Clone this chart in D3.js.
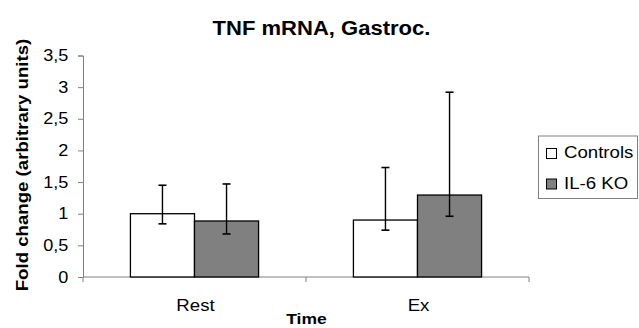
<!DOCTYPE html>
<html>
<head>
<meta charset="utf-8">
<script src="https://cdn.jsdelivr.net/npm/d3@7"></script>
<style>
  body { margin: 0; background: #fff; }
  svg { display: block; font-family: "Liberation Sans", Arial, sans-serif; }
</style>
</head>
<body>
<div id="chart"></div>
<script>
const categories = ['Rest', 'Ex']
const seriesNames = ['Controls', 'IL-6 KO']
const seriesColors = ['#ffffff', '#808080']
// mean, lower error end, upper error end for each category
const controlsMean = [1.0, 0.9]
const controlsLow = [0.84, 0.74]
const controlsHigh = [1.45, 1.73]
const koMean = [0.885, 1.295]
const koLow = [0.68, 0.96]
const koHigh = [1.47, 2.92]
const yTicks = [0, 0.5, 1, 1.5, 2, 2.5, 3, 3.5]

const width = 639, height = 328
const margin = {left: 83, right: 110, top: 55.5, bottom: 51}
const SX = 1.13 // the original font runs wider than Liberation Sans

const svg = d3.select('#chart').append('svg')
  .attr('width', width)
  .attr('height', height)

const x = d3.scaleBand()
  .domain(categories)
  .range([margin.left, width - margin.right])

const xs = d3.scaleBand()
  .domain(seriesNames)
  .range([0, x.bandwidth()])
  .paddingInner(0)
  .paddingOuter(0.74)

const y = d3.scaleLinear()
  .domain([0, 3.5])
  .range([height - margin.bottom, margin.top])

const fmt = d => String(d).replace('.', ',')

// text placed at (tx, ty), stretched a bit horizontally
const label = (parent, tx, ty, str, size, bold, anchor, rot) => parent.append('text')
  .attr('transform', `translate(${tx},${ty})` + (rot ? ` rotate(${rot})` : '') + ` scale(${SX},1)`)
  .attr('text-anchor', anchor || 'start')
  .style('font-size', size + 'px')
  .style('font-weight', bold ? 'bold' : 'normal')
  .text(str)

// y axis
const yAxis = svg.append('g')
  .attr('transform', `translate(${margin.left},0)`)
  .call(d3.axisLeft(y).tickValues(yTicks).tickSize(5).tickPadding(8).tickFormat(fmt))
yAxis.select('.domain').attr('stroke', '#808080')
yAxis.selectAll('.tick line').attr('stroke', '#808080')
yAxis.selectAll('.tick text')
  .attr('fill', '#000')
  .attr('transform', `scale(${SX},1)`)
  .style('font-size', '16px')

// x axis with ticks between categories
const xAxisG = svg.append('g')
  .attr('transform', `translate(0,${y(0)})`)
xAxisG.append('line')
  .attr('x1', margin.left).attr('x2', width - margin.right)
  .attr('stroke', '#808080')
const boundaries = categories.map(c => x(c)).concat([x(categories[categories.length - 1]) + x.bandwidth()])
xAxisG.selectAll('.xt').data(boundaries).join('line')
  .attr('x1', d => d).attr('x2', d => d)
  .attr('y1', 0).attr('y2', 5)
  .attr('stroke', '#808080')
categories.forEach(c => label(xAxisG, x(c) + x.bandwidth() / 2 + 1, 34, c, 16.5, false, 'middle'))

const series = [
  {name: seriesNames[0], mean: controlsMean, low: controlsLow, high: controlsHigh, color: seriesColors[0]},
  {name: seriesNames[1], mean: koMean, low: koLow, high: koHigh, color: seriesColors[1]}
]

series.forEach(s => {
  const g = svg.append('g')
  categories.forEach((c, i) => {
    const bx = x(c) + xs(s.name)
    g.append('rect')
      .attr('x', bx)
      .attr('y', y(s.mean[i]))
      .attr('width', xs.bandwidth())
      .attr('height', y(0) - y(s.mean[i]))
      .attr('fill', s.color)
      .attr('stroke', '#000')
      .attr('stroke-width', 1.3)
    const cx = bx + xs.bandwidth() / 2
    g.append('line')
      .attr('x1', cx).attr('x2', cx)
      .attr('y1', y(s.low[i])).attr('y2', y(s.high[i]))
      .attr('stroke', '#000').attr('stroke-width', 1.4)
    ;[s.low[i], s.high[i]].forEach(v => {
      g.append('line')
        .attr('x1', cx - 4).attr('x2', cx + 4)
        .attr('y1', y(v)).attr('y2', y(v))
        .attr('stroke', '#000').attr('stroke-width', 1.6)
    })
  })
})

// title and axis titles
label(svg, 321.5, 35, 'TNF mRNA, Gastroc.', 19.5, true, 'middle')
label(svg, 306.5, 323.5, 'Time', 15.5, true, 'middle')
label(svg, 28, 165, 'Fold change (arbitrary units)', 16.5, true, 'middle', -90)

// legend
const lg = svg.append('g').attr('transform', 'translate(538.5,136)')
lg.append('rect')
  .attr('width', 99).attr('height', 62.5)
  .attr('fill', '#fff').attr('stroke', '#808080')
series.forEach((s, i) => {
  lg.append('rect')
    .attr('x', 8).attr('y', 12.5 + i * 30.5)
    .attr('width', 10).attr('height', 10)
    .attr('fill', s.color).attr('stroke', '#000')
  label(lg, 25.5, 21.5 + i * 31, s.name, 16.5, false, 'start')
})
</script>
</body>
</html>
